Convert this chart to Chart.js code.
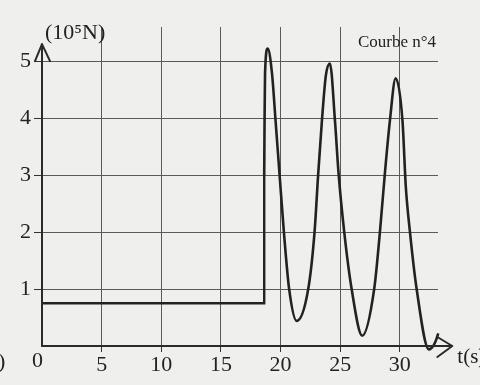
<!DOCTYPE html>
<html>
<head>
<meta charset="utf-8">
<script src="https://cdn.jsdelivr.net/npm/chart.js@4/dist/chart.umd.min.js"></script>
<style>
  html, body { margin: 0; padding: 0; background: #efefed; }
  canvas { display: block; }
</style>
</head>
<body>
<canvas id="c" width="480" height="385"></canvas>
<script>
// ---- data ----
const xTicks = [5, 10, 15, 20, 25, 30];
const yTicks = [1, 2, 3, 4, 5];
// step part (constant force, then sudden rise)
const stepT = [0, 18.63, 18.63];
const stepF = [0.75, 0.75, 3.0];
// oscillating part
const curveT = [18.63, 18.66, 18.70, 18.92, 19.28, 19.58, 19.92, 20.28, 20.72, 21.35, 22.32, 22.85, 23.15, 23.47, 23.80, 24.14, 24.56, 24.86, 25.34, 25.96, 26.85, 27.85, 28.33, 28.75, 29.17, 29.65, 30.22, 30.50, 30.85, 31.41, 32.44, 33.22, 33.72];
const curveF = [3.0, 3.96, 4.79, 5.22, 4.79, 3.96, 3.0, 2.0, 1.0, 0.44, 1.0, 2.0, 3.0, 3.96, 4.75, 4.96, 3.96, 3.04, 2.0, 1.0, 0.18, 1.0, 2.0, 3.04, 3.96, 4.70, 3.96, 2.8, 2.0, 1.0, -0.06, 0.22, 0.78];
const yUnit = "(10⁵N)";
const xUnit = "t(s)";
const curveName = "Courbe n°4";

const SERIF = "'Liberation Serif', 'DejaVu Serif', serif";
const ink = '#222';
const gridCol = '#5a5a5a';

const decor = {
  id: 'decor',
  beforeDraw(chart) {
    const ctx = chart.ctx;
    ctx.save();
    ctx.fillStyle = '#efefed';
    ctx.fillRect(0, 0, chart.width, chart.height);
    ctx.restore();
  },
  afterDraw(chart) {
    const ctx = chart.ctx;
    const xs = chart.scales.x, ys = chart.scales.y;
    const x0 = xs.getPixelForValue(0), y0 = ys.getPixelForValue(0);
    const yTop = ys.getPixelForValue(5.3);
    const xEnd = xs.getPixelForValue(34.4);
    ctx.save();
    ctx.strokeStyle = '#2a2a2a';
    ctx.lineWidth = 2;
    ctx.lineCap = 'round';
    ctx.lineJoin = 'round';
    // y axis with arrow
    ctx.beginPath();
    ctx.moveTo(x0, y0);
    ctx.lineTo(x0, yTop);
    ctx.moveTo(x0 - 7, yTop + 17);
    ctx.lineTo(x0, yTop);
    ctx.lineTo(x0 + 8, yTop + 17);
    ctx.stroke();
    // x axis with arrow
    ctx.beginPath();
    ctx.moveTo(x0, y0);
    ctx.lineTo(xEnd, y0);
    ctx.moveTo(xEnd - 15, y0 - 9);
    ctx.lineTo(xEnd, y0);
    ctx.lineTo(xEnd - 15, y0 + 11);
    ctx.stroke();
    // texts
    ctx.fillStyle = ink;
    ctx.textBaseline = 'alphabetic';
    ctx.textAlign = 'left';
    ctx.font = '22px ' + SERIF;
    ctx.fillText('0', x0 - 10, y0 + 21);
    ctx.fillText(')', -2, y0 + 22);
    ctx.font = '21px ' + SERIF;
    ctx.fillText(xUnit, xEnd + 5, y0 + 17);
    ctx.font = '22px ' + SERIF;
    ctx.fillText(yUnit, x0 + 3, 39);
    ctx.font = '17px ' + SERIF;
    ctx.fillText(curveName, 358, 47);
    ctx.restore();
  }
};

new Chart(document.getElementById('c'), {
  type: 'line',
  data: {
    datasets: [
      {
        data: stepT.map((t, i) => ({ x: t, y: stepF[i] })),
        borderColor: ink, borderWidth: 2.4, tension: 0,
        pointRadius: 0, fill: false, clip: false
      },
      {
        data: curveT.map((t, i) => ({ x: t, y: curveF[i] })),
        borderColor: ink, borderWidth: 2.6, cubicInterpolationMode: 'monotone',
        pointRadius: 0, fill: false, clip: false
      }
    ]
  },
  options: {
    responsive: false,
    animation: false,
    devicePixelRatio: 1,
    layout: { padding: { top: 27, right: 42, left: 0, bottom: 0 } },
    plugins: { legend: { display: false }, tooltip: { enabled: false } },
    scales: {
      x: {
        type: 'linear', min: 0, max: 33.2,
        afterBuildTicks: s => { s.ticks = xTicks.map(v => ({ value: v })); },
        afterFit: s => { s.height = 39; },
        grid: { color: gridCol, lineWidth: 1, tickLength: 6, tickColor: '#333', drawTicks: true },
        border: { display: false },
        ticks: { color: ink, font: { family: SERIF, size: 22 }, padding: 0, maxRotation: 0, autoSkip: false }
      },
      y: {
        type: 'linear', min: 0, max: 5.6,
        afterBuildTicks: s => { s.ticks = yTicks.map(v => ({ value: v })); },
        afterFit: s => { s.width = 42; },
        grid: { color: gridCol, lineWidth: 1, tickLength: 8, tickColor: '#333', drawTicks: true },
        border: { display: false },
        ticks: { color: ink, font: { family: SERIF, size: 22 }, padding: 3, autoSkip: false }
      }
    }
  },
  plugins: [decor]
});
</script>
</body>
</html>
